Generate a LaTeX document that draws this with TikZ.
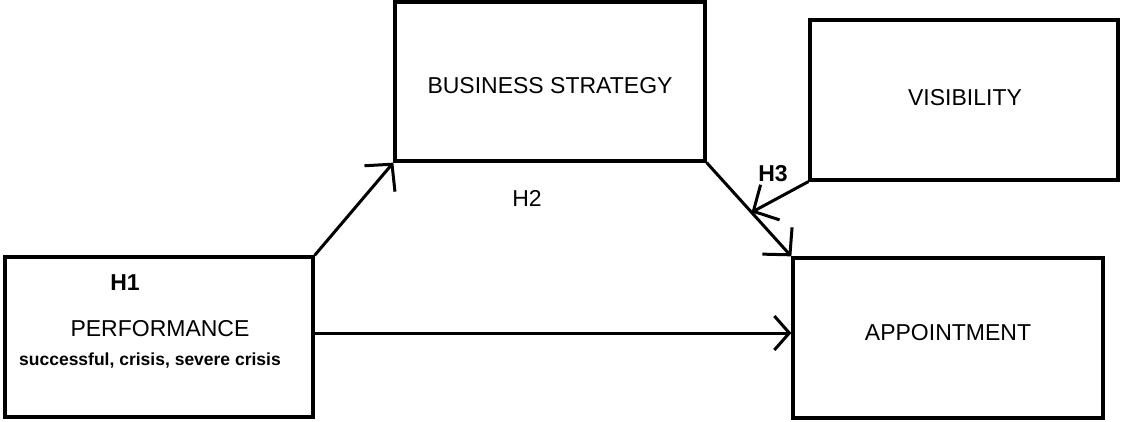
\documentclass[tikz,border=0pt]{standalone}
\usepackage{fontspec}
\setmainfont{Liberation Sans}
\usetikzlibrary{arrows.meta,calc}
\begin{document}
\begin{tikzpicture}[x=1pt,y=-1pt,
  box/.style={draw, line width=3.3pt, minimum width=#1, minimum height=160pt, inner sep=0pt},
  lbl/.style={font=\fontsize{23}{27}\selectfont, inner sep=0pt},
  blbl/.style={font=\fontsize{23}{27}\selectfont\bfseries, inner sep=0pt},
  conn/.style={line width=3pt, -{Straight Barb[length=19pt,width=40pt,line width=3pt]}},
  connh/.style={line width=3pt, -{Straight Barb[length=15pt,width=34pt,line width=3pt]}}
]
\useasboundingbox (0,0) rectangle (1122,421);
\node[box=308pt] (perf) at (159,337) {};
\node[box=310pt, minimum height=159pt] (bs) at (550,81.5) {};
\node[box=308pt] (vis) at (964,100) {};
\node[box=310pt] (app) at (948,338) {};

\node[blbl] (h1) at (125,283) {H1};
\node[lbl] (perft) at (160,329) {PERFORMANCE};
\node[inner sep=0pt, font=\fontsize{17.5}{21}\selectfont\bfseries] (sub) at (150,361) {successful, crisis, severe crisis};
\node[lbl] (bst) at (550,86) {BUSINESS STRATEGY};
\node[lbl] (vist) at (965,98) {VISIBILITY};
\node[lbl] (appt) at (948,333) {APPOINTMENT};
\node[lbl] (h2) at (527,198) {H2};
\node[blbl] (h3) at (773,174) {H3};

\coordinate (h3tip) at ($(bs.south east)!0.53!(app.north west)$);
\draw[conn] (perf.north east) -- (bs.south west);
\draw[conn] (bs.south east) -- (app.north west);
\draw[conn] (vis.south west) -- (h3tip);
\draw[connh] ([yshift=4pt]perf.east) -- ([yshift=5pt]app.west);
\end{tikzpicture}
\end{document}
